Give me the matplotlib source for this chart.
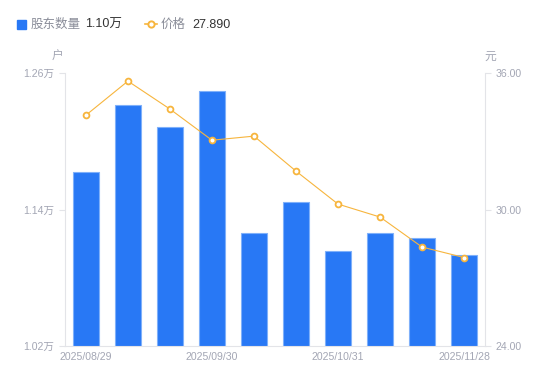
import matplotlib.pyplot as plt
import numpy as np
from matplotlib.lines import Line2D
from matplotlib.patches import Rectangle

plt.rcParams['font.family'] = ['Liberation Sans', 'Noto Sans CJK SC', 'DejaVu Sans']

dates = ['2025/08/29', '2025/09/10', '2025/09/19', '2025/09/30', '2025/10/10',
         '2025/10/20', '2025/10/31', '2025/11/10', '2025/11/20', '2025/11/28']
holders = [1.173, 1.232, 1.2125, 1.244, 1.119, 1.147, 1.1035, 1.119, 1.115, 1.10]  # 万户
price = [34.15, 35.65, 34.42, 33.05, 33.23, 31.69, 30.24, 29.67, 28.35, 27.89]
left_ticks = [1.02, 1.14, 1.26]
right_ticks = [24.0, 30.0, 36.0]

bar_color = '#2878F5'
line_color = '#F7B53D'
tick_color = '#A3A6B4'
axis_color = '#E3E4E8'

fig = plt.figure(figsize=(5.5, 3.81), dpi=100)
ax = fig.add_axes([0.118, 0.092, 0.764, 0.716])
x = np.arange(len(dates))

ax.bar(x, holders, width=0.6, color=bar_color, edgecolor='#7FB0FA', linewidth=0.8, zorder=2)
ax.set_xlim(-0.5, len(dates) - 0.5)
ax.set_ylim(left_ticks[0], left_ticks[-1])
ax.set_yticks(left_ticks)
ax.set_yticklabels([f'{v:.2f}万' for v in left_ticks])
ax.set_xticks(x[::3])
ax.set_xticklabels(dates[::3])

ax2 = ax.twinx()
ax2.plot(x, price, color=line_color, linewidth=0.8, marker='o', markersize=4.2,
         markerfacecolor='white', markeredgecolor=line_color, markeredgewidth=1.3, zorder=3)
ax2.set_ylim(right_ticks[0], right_ticks[-1])
ax2.set_yticks(right_ticks)
ax2.set_yticklabels([f'{v:.2f}' for v in right_ticks])

for a in (ax, ax2):
    for s in a.spines.values():
        s.set_visible(False)
    a.tick_params(colors=tick_color, labelsize=7.6, length=4, width=0.8, color=axis_color)
ax.spines['left'].set_visible(True)
ax.spines['left'].set_color(axis_color)
ax.spines['bottom'].set_visible(True)
ax.spines['bottom'].set_color(axis_color)
ax2.spines['right'].set_visible(True)
ax2.spines['right'].set_color(axis_color)
ax.tick_params(axis='x', length=0, pad=4)

fig.text(58 / 550, 1 - 57 / 381, '户', color=tick_color, fontsize=8.5, ha='center', va='center')
fig.text(490 / 550, 1 - 57 / 381, '元', color=tick_color, fontsize=8.5, ha='center', va='center')

# legend
fig.patches.append(Rectangle((17 / 550, 1 - 29 / 381), 9 / 550, 9 / 381,
                             transform=fig.transFigure, color=bar_color, figure=fig))
fig.text(31 / 550, 1 - 24.5 / 381, '股东数量', color='#8A8D99', fontsize=9, va='center')
fig.text(85 / 550, 1 - 24.5 / 381, f'{holders[-1]:.2f}万', color='#333333', fontsize=9, va='center')
fig.lines.append(Line2D([145 / 550, 157 / 550], [1 - 24 / 381] * 2, transform=fig.transFigure,
                        color=line_color, linewidth=1.2, figure=fig))
fig.lines.append(Line2D([151 / 550], [1 - 24 / 381], transform=fig.transFigure, color=line_color,
                        marker='o', markersize=4.5, markerfacecolor='white',
                        markeredgewidth=1.4, figure=fig))
fig.text(161 / 550, 1 - 24.5 / 381, '价格', color='#8A8D99', fontsize=9, va='center')
fig.text(192 / 550, 1 - 24.5 / 381, f'{price[-1]:.3f}', color='#333333', fontsize=9, va='center')

fig.savefig('out.png', dpi=100)
